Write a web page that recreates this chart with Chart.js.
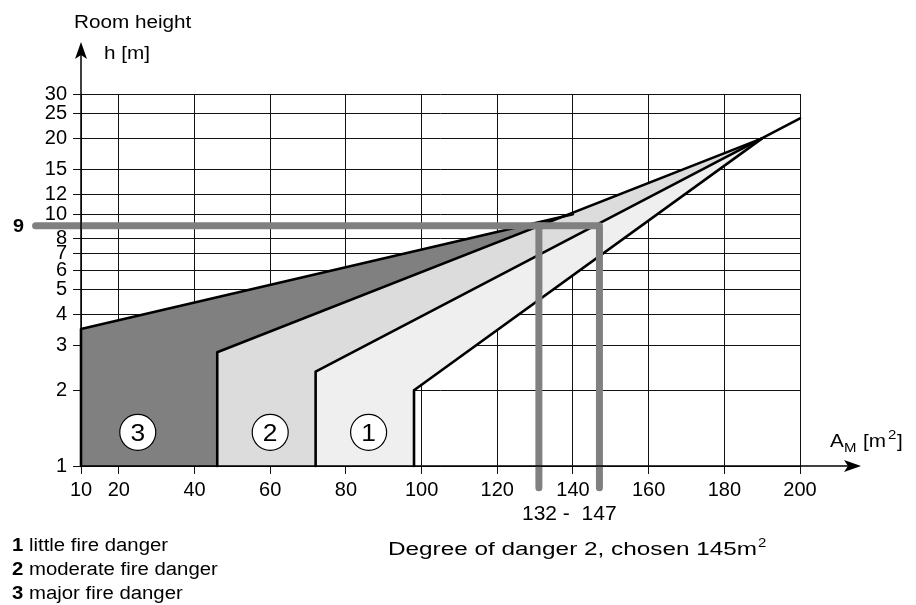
<!DOCTYPE html>
<html>
<head>
<meta charset="utf-8">
<script src="https://cdn.jsdelivr.net/npm/chart.js@4.4.1/dist/chart.umd.min.js"></script>
<style>
  html, body { margin: 0; padding: 0; background: #fff; }
  canvas { display: block; }
</style>
</head>
<body>
<canvas id="chart" width="916" height="605"></canvas>
<script>
// axis ticks
const xTicks = [10, 20, 40, 60, 80, 100, 120, 140, 160, 180, 200];
const yTicks = [1, 2, 3, 4, 5, 6, 7, 8, 10, 12, 15, 20, 25, 30];

// danger zones as outlines of (A_M, h)
const zone3 = [[10, 1], [10, 3.5], [140, 10], [46, 2.83], [46, 1]];
const zone2 = [[46, 1], [46, 2.83], [190, 20], [72, 2.37], [72, 1]];
const zone1 = [[72, 1], [72, 2.37], [190, 20], [98, 2], [98, 1]];

// black boundary lines
const edgeTop = [[10, 1], [10, 3.5], [140, 10]];
const edge32 = [[46, 1], [46, 2.83], [190, 20]];
const edge21 = [[72, 1], [72, 2.37], [200, 24]];
const edge1 = [[98, 1], [98, 2], [190, 20]];

// example reading: h = 9 m gives 131..147 m2
const readH = [[-2, 9], [147, 9], [147, 0.82]];
const readV = [[131, 9], [131, 0.82]];

// circled zone numbers
const markLabels = ['3', '2', '1'];
const markX = [25, 60, 86];
const markY = [1.36, 1.36, 1.36];

const FONT = "'Liberation Sans', Arial, sans-serif";
const pts = a => a.map(p => ({x: p[0], y: p[1]}));

function lineSet(data, color, width) {
  return {data: pts(data), showLine: true, fill: false, borderColor: color, borderWidth: width,
    pointRadius: 0, borderCapStyle: 'round', borderJoinStyle: 'round', tension: 0, clip: false};
}
function zoneSet(data, color) {
  return {data: pts(data), showLine: true, fill: 'shape', backgroundColor: color, borderWidth: 0,
    borderColor: 'rgba(0,0,0,0)', pointRadius: 0, tension: 0};
}

// text with a horizontal stretch (the original lettering is wide)
function txt(ctx, s, x, y, font, align, sx) {
  ctx.save();
  ctx.font = font;
  ctx.textAlign = align || 'left';
  ctx.textBaseline = 'alphabetic';
  ctx.translate(x, y);
  ctx.scale(sx || 1, 1);
  ctx.fillText(s, 0, 0);
  ctx.restore();
}

const deco = {
  id: 'deco',
  afterDraw(chart) {
    const {ctx, chartArea: a, scales: {x, y}} = chart;
    ctx.save();
    ctx.strokeStyle = '#000';
    ctx.fillStyle = '#000';
    ctx.lineWidth = 1.5;
    // y axis
    ctx.beginPath();
    ctx.moveTo(a.left, a.bottom);
    ctx.lineTo(a.left, a.top - 46);
    ctx.stroke();
    let tx = a.left, ty = a.top - 52;
    ctx.beginPath();
    ctx.moveTo(tx, ty); ctx.lineTo(tx + 6, ty + 17); ctx.lineTo(tx, ty + 13); ctx.lineTo(tx - 6, ty + 17);
    ctx.closePath(); ctx.fill();
    // x axis
    ctx.beginPath();
    ctx.moveTo(a.left, a.bottom);
    ctx.lineTo(a.right + 55, a.bottom);
    ctx.stroke();
    tx = a.right + 61; ty = a.bottom;
    ctx.beginPath();
    ctx.moveTo(tx, ty); ctx.lineTo(tx - 17, ty - 6); ctx.lineTo(tx - 13, ty); ctx.lineTo(tx - 17, ty + 6);
    ctx.closePath(); ctx.fill();

    // circled zone numbers
    for (let i = 0; i < markLabels.length; i++) {
      const px = x.getPixelForValue(markX[i]);
      const py = y.getPixelForValue(markY[i]);
      ctx.beginPath();
      ctx.arc(px, py, 18, 0, Math.PI * 2);
      ctx.fillStyle = '#fff'; ctx.fill();
      ctx.lineWidth = 1.2; ctx.strokeStyle = '#000'; ctx.stroke();
      ctx.fillStyle = '#000';
      txt(ctx, markLabels[i], px, py + 8.5, '24px ' + FONT, 'center', 1.1);
    }

    // titles
    ctx.fillStyle = '#000';
    txt(ctx, 'Room height', 74, 28, '18px ' + FONT, 'left', 1.15);
    txt(ctx, 'h [m]', 104, 59, '18px ' + FONT, 'left', 1.15);
    txt(ctx, '9', 13, y.getPixelForValue(9) + 6.5, 'bold 18px ' + FONT, 'left', 1.1);

    // A_M [m2]
    const bx = 830, by = 447;
    txt(ctx, 'A', bx, by, '18px ' + FONT, 'left', 1.15);
    txt(ctx, 'M', bx + 14, by + 5, '13px ' + FONT, 'left', 1.15);
    txt(ctx, '[m', bx + 33, by, '18px ' + FONT, 'left', 1.15);
    txt(ctx, '2', bx + 58, by - 8, '13px ' + FONT, 'left', 1.15);
    txt(ctx, ']', bx + 67, by, '18px ' + FONT, 'left', 1.15);

    // reading result
    txt(ctx, '132 -  147', 522, 520, '20px ' + FONT, 'left', 1.05);
    const deg = 'Degree of danger 2, chosen 145m';
    ctx.font = '18px ' + FONT;
    const sx = 369 / ctx.measureText(deg).width;
    txt(ctx, deg, 388, 555, '18px ' + FONT, 'left', sx);
    txt(ctx, '2', 388 + 369 + 1, 547, '13px ' + FONT, 'left', 1.15);

    // legend of zones
    const leg = [['1', ' little fire danger'], ['2', ' moderate fire danger'], ['3', ' major fire danger']];
    leg.forEach((l, i) => {
      const ly = 551 + i * 24;
      txt(ctx, l[0], 12, ly, 'bold 18px ' + FONT, 'left', 1.13);
      ctx.font = 'bold 18px ' + FONT;
      const nw = ctx.measureText(l[0]).width * 1.13;
      txt(ctx, l[1], 12 + nw, ly, '18px ' + FONT, 'left', 1.13);
    });
    ctx.restore();
  }
};

const tickFont = {family: FONT, size: 20};

new Chart(document.getElementById('chart').getContext('2d'), {
  type: 'scatter',
  data: {
    datasets: [
      lineSet(readH, '#808080', 7),
      lineSet(readV, '#808080', 7),
      lineSet(edgeTop, '#000', 2.6),
      lineSet(edge32, '#000', 2.6),
      lineSet(edge21, '#000', 2.6),
      lineSet(edge1, '#000', 2.6),
      zoneSet(zone1, '#efefef'),
      zoneSet(zone2, '#dcdcdc'),
      zoneSet(zone3, '#808080')
    ]
  },
  options: {
    responsive: false,
    animation: false,
    devicePixelRatio: 1,
    layout: {padding: {left: 0, right: 116, top: 94, bottom: 99}},
    plugins: {legend: {display: false}, tooltip: {enabled: false}},
    scales: {
      x: {
        type: 'linear', min: 10, max: 200, z: 1,
        afterBuildTicks: ax => { ax.ticks = xTicks.map(v => ({value: v})); },
        afterFit: ax => { ax.height = 40; },
        grid: {color: '#111', lineWidth: 1, tickLength: 8, tickColor: '#111'},
        border: {display: false},
        ticks: {autoSkip: false, maxRotation: 0, padding: 4, color: '#000', font: tickFont,
          callback: v => String(v)}
      },
      y: {
        type: 'logarithmic', min: 1, max: 30, z: 1,
        afterBuildTicks: ax => { ax.ticks = yTicks.map(v => ({value: v})); },
        afterFit: ax => { ax.width = 81; },
        grid: {color: '#111', lineWidth: 1, tickLength: 8, tickColor: '#111'},
        border: {display: false},
        ticks: {autoSkip: false, padding: 6, color: '#000', font: tickFont,
          callback: v => String(v)}
      }
    }
  },
  plugins: [deco]
});
</script>
</body>
</html>
